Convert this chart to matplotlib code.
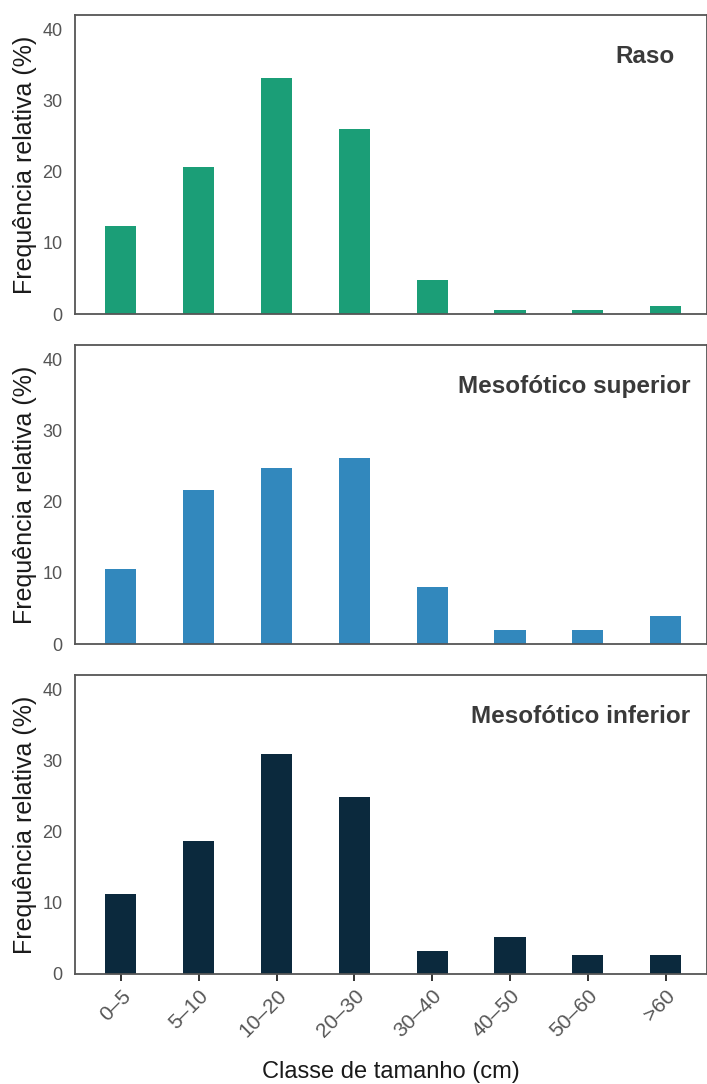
import matplotlib.pyplot as plt
import numpy as np

# size classes and relative frequencies (%)
classes = ["0–5", "5–10", "10–20", "20–30", "30–40", "40–50", "50–60", ">60"]
raso = [12.4, 20.7, 33.2, 26.0, 4.8, 0.6, 0.6, 1.1]
meso_sup = [10.6, 21.7, 24.7, 26.2, 8.0, 2.0, 2.0, 3.9]
meso_inf = [11.3, 18.7, 30.9, 24.8, 3.2, 5.2, 2.6, 2.6]

panels = ["Raso", "Mesofótico superior", "Mesofótico inferior"]
series = [raso, meso_sup, meso_inf]
colors = ["#1b9e77", "#3288bd", "#0b293d"]
title_x = [0.949, 0.974, 0.974]

plt.rcParams["font.family"] = ["Liberation Sans", "DejaVu Sans"]

fig = plt.figure(figsize=(7.07, 10.84), dpi=100)
bottoms = [0.7103, 0.4059, 0.1015]
x = np.arange(len(classes))

for i in range(3):
    ax = fig.add_axes([0.106, bottoms[i], 0.894, 0.2758])
    ax.bar(x, series[i], width=0.4, color=colors[i])
    ax.set_xlim(-0.59, 7.53)
    ax.set_ylim(0, 42)
    ax.set_yticks([0, 10, 20, 30, 40])
    for s in ax.spines.values():
        s.set_color("#555555")
        s.set_linewidth(1.3)
    ax.tick_params(axis="y", length=0, pad=9, labelcolor="#555555", labelsize=13)
    ax.set_ylabel("Frequência relativa (%)", fontsize=18, color="#1a1a1a", labelpad=4)
    ax.text(title_x[i], 0.86, panels[i], transform=ax.transAxes, ha="right", va="center",
            fontsize=17.5, fontweight="bold", color="#3a3a3a")
    ax.set_xticks(x)
    if i < 2:
        ax.tick_params(axis="x", length=0, labelbottom=False)
    else:
        ax.set_xticklabels(classes, rotation=45, ha="right", rotation_mode="anchor",
                           fontsize=15, color="#555555")
        ax.tick_params(axis="x", length=5, width=1.3, color="#222222", pad=4)
        ax.set_xlabel("Classe de tamanho (cm)", fontsize=17, color="#1a1a1a", labelpad=14)

fig.savefig("out.png", dpi=100)
